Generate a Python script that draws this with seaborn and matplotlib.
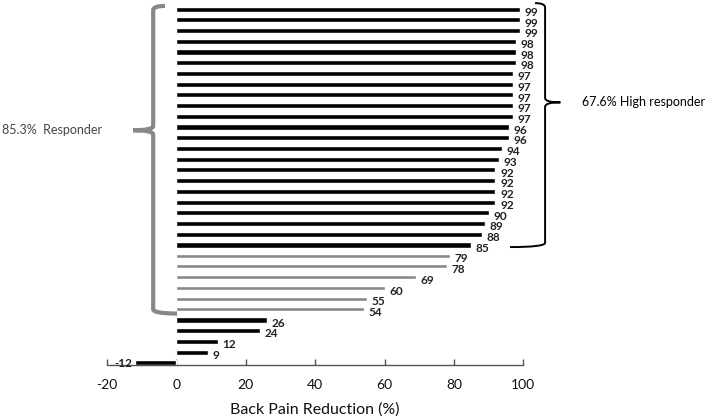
import pandas as pd
import numpy as np
import matplotlib as mpl
import matplotlib.pyplot as plt
import seaborn as sns
from matplotlib.path import Path
from matplotlib.patches import PathPatch

# back pain reduction per patient (%), top to bottom
reduction = [99, 99, 99, 98, 98, 98, 97, 97, 97, 97, 97, 96, 96, 94, 93, 92, 92, 92, 92,
             90, 89, 88, 85,
             79, 78, 69, 60, 55, 54,
             26, 24, 12, 9, -12]
group = (["high"] * 23) + (["responder"] * 6) + (["non"] * 5)
xticks = [-20, 0, 20, 40, 60, 80, 100]

sns.set_theme(style="white")
plt.rcParams["font.family"] = ["Lato", "DejaVu Sans"]

df = pd.DataFrame({"patient": np.arange(len(reduction)), "reduction": reduction, "group": group})

fig = plt.figure(figsize=(7.09, 4.18), dpi=100)
ax = fig.add_axes([0.151, 0.126, 0.587, 0.865])

sns.barplot(data=df, x="reduction", y="patient", hue="group", orient="h",
            palette={"high": "black", "responder": "#888888", "non": "black"},
            dodge=False, width=0.48, legend=False, ax=ax)

# grey bars are a little thinner
for p in ax.patches:
    if p.get_facecolor()[0] > 0.3:
        h = p.get_height()
        p.set_y(p.get_y() + (h - 0.37) / 2)
        p.set_height(0.37)

# value labels
for i, v in enumerate(reduction):
    if v >= 0:
        ax.text(v + 1.3, i + 0.3, str(v), ha="left", va="center", fontsize=8.5,
                fontweight="bold", color="#222222")
    else:
        ax.text(v - 0.8, i + 0.05, str(v), ha="right", va="center", fontsize=8.5,
                fontweight="bold", color="#222222")

ax.set_xlim(-20, 100)
ax.set_ylim(33.23, -0.5)
ax.set_xticks(xticks)
ax.set_xticklabels([str(t) for t in xticks], fontsize=10, color="#111111")
ax.set_yticks([])
ax.set_ylabel("")
ax.set_xlabel("Back Pain Reduction (%)", fontsize=11.5, color="#111111", labelpad=8)
for s in ["top", "right", "left"]:
    ax.spines[s].set_visible(False)
ax.spines["bottom"].set_color("#555555")
ax.spines["bottom"].set_linewidth(1)
ax.tick_params(axis="x", direction="in", length=4, width=1, color="#555555", bottom=True, pad=10)


def brace(xv, xt, x_top, x_bot, y0, y1, ym, r, color, lw):
    verts = [(x_top, y0), (xv, y0), (xv, y0 + r), (xv, ym - r), (xv, ym), (xt, ym),
             (xt, ym), (xv, ym), (xv, ym + r), (xv, y1 - r), (xv, y1), (x_bot, y1)]
    codes = [Path.MOVETO, Path.CURVE3, Path.CURVE3, Path.LINETO, Path.CURVE3, Path.CURVE3,
             Path.MOVETO, Path.CURVE3, Path.CURVE3, Path.LINETO, Path.CURVE3, Path.CURVE3]
    ax.add_patch(PathPatch(Path(verts, codes), fill=False, edgecolor=color, lw=lw,
                           clip_on=False, capstyle="butt"))


# responder brace (left, grey)
brace(-6.7, -12.5, -3.3, 0.2, -0.3, 28.4, 11.3, 0.4, "#888888", 3)
ax.text(-50.3, 11.3, "85.3%  Responder", ha="left", va="center", fontsize=9, color="#444444")

# high responder brace (right, black)
brace(106.3, 110.7, 103.4, 96.2, -0.56, 22.2, 8.7, 0.4, "black", 1.4)
ax.text(117, 8.7, "67.6% High responder", ha="left", va="center", fontsize=9, color="black")

fig.savefig("out.png", dpi=100)
